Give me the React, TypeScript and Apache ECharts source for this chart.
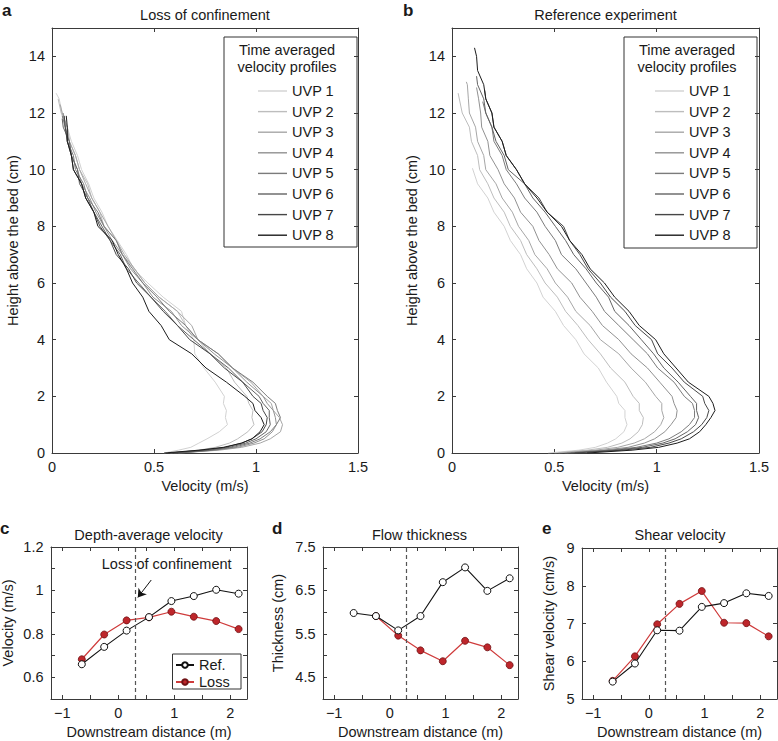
import React, { useEffect, useRef } from 'react';
import * as echarts from 'echarts';

// ---------- Data ----------
// Shared height grid (cm) used by the velocity profiles; last value of each profile is at its own top height
const HEIGHTS = [0, 0.1, 0.2, 0.35, 0.5, 0.75, 1, 1.25, 1.5, 1.75, 2, 2.5, 3, 3.5, 4, 4.5, 5, 5.5, 6, 6.5, 7, 7.5, 8, 8.5, 9, 9.5, 10, 10.5, 11, 11.5, 12, 12.5, 13, 13.5, 14];

const UVP_NAMES = ['UVP 1', 'UVP 2', 'UVP 3', 'UVP 4', 'UVP 5', 'UVP 6', 'UVP 7', 'UVP 8'];
const UVP_COLORS = ['#d2d2d2', '#bdbdbd', '#a6a6a6', '#919191', '#7b7b7b', '#636363', '#474747', '#1c1c1c'];

// Panel a: loss of confinement (velocity m/s)
const LOSS_TOPS = [12.7, 12.5, 12.3, 12.0, 11.9, 11.8, 11.9, 11.9];
const LOSS_UVP1 = [0.55, 0.62, 0.68, 0.72, 0.76, 0.82, 0.86, 0.85, 0.855, 0.84, 0.845, 0.8, 0.745, 0.7, 0.695, 0.655, 0.635, 0.545, 0.47, 0.4, 0.365, 0.32, 0.275, 0.245, 0.205, 0.18, 0.145, 0.125, 0.095, 0.075, 0.05, 0.035, 0.02];
const LOSS_UVP2 = [0.58, 0.72, 0.8, 0.87, 0.91, 0.96, 0.99, 0.98, 0.985, 0.965, 0.955, 0.895, 0.855, 0.775, 0.715, 0.655, 0.615, 0.525, 0.455, 0.405, 0.345, 0.315, 0.255, 0.235, 0.195, 0.175, 0.135, 0.115, 0.085, 0.075, 0.045, 0.03];
const LOSS_UVP3 = [0.62, 0.82, 0.93, 1.02, 1.07, 1.12, 1.13, 1.115, 1.085, 1.075, 1.035, 0.975, 0.885, 0.815, 0.715, 0.685, 0.615, 0.525, 0.455, 0.405, 0.355, 0.315, 0.275, 0.235, 0.195, 0.165, 0.135, 0.115, 0.085, 0.075, 0.05, 0.04];
const LOSS_UVP4 = [0.6, 0.8, 0.91, 0.99, 1.04, 1.08, 1.1, 1.095, 1.085, 1.055, 1.035, 0.955, 0.885, 0.795, 0.715, 0.635, 0.585, 0.495, 0.445, 0.385, 0.345, 0.295, 0.255, 0.215, 0.185, 0.145, 0.125, 0.095, 0.085, 0.065, 0.055];
const LOSS_UVP5 = [0.63, 0.79, 0.89, 0.97, 1.02, 1.07, 1.1, 1.12, 1.105, 1.095, 1.055, 0.985, 0.885, 0.815, 0.715, 0.655, 0.575, 0.515, 0.445, 0.395, 0.345, 0.315, 0.255, 0.225, 0.175, 0.155, 0.115, 0.105, 0.075, 0.065, 0.05];
const LOSS_UVP6 = [0.61, 0.77, 0.87, 0.95, 1.0, 1.05, 1.07, 1.065, 1.065, 1.035, 1.015, 0.935, 0.865, 0.775, 0.695, 0.615, 0.555, 0.485, 0.425, 0.365, 0.335, 0.285, 0.245, 0.205, 0.175, 0.135, 0.125, 0.095, 0.085, 0.055, 0.05];
const LOSS_UVP7 = [0.57, 0.74, 0.85, 0.93, 0.98, 1.03, 1.05, 1.055, 1.035, 1.025, 0.985, 0.935, 0.845, 0.775, 0.675, 0.615, 0.545, 0.485, 0.415, 0.375, 0.315, 0.285, 0.235, 0.205, 0.165, 0.145, 0.105, 0.095, 0.075, 0.065, 0.06];
const LOSS_UVP8 = [0.55, 0.72, 0.84, 0.93, 0.98, 1.02, 1.04, 1.025, 0.995, 0.985, 0.945, 0.855, 0.755, 0.685, 0.575, 0.535, 0.475, 0.445, 0.395, 0.365, 0.325, 0.295, 0.225, 0.205, 0.165, 0.145, 0.105, 0.095, 0.075, 0.075, 0.07];
const LOSS_PROFILES = [LOSS_UVP1, LOSS_UVP2, LOSS_UVP3, LOSS_UVP4, LOSS_UVP5, LOSS_UVP6, LOSS_UVP7, LOSS_UVP8];

// Panel b: reference experiment (velocity m/s)
const REF_TOPS = [10.05, 12.7, 13.1, 12.9, 12.4, 13.3, 12.8, 14.3];
const REF_UVP1 = [0.47, 0.62, 0.7, 0.76, 0.8, 0.84, 0.855, 0.845, 0.845, 0.815, 0.805, 0.755, 0.715, 0.645, 0.605, 0.545, 0.505, 0.445, 0.415, 0.365, 0.335, 0.285, 0.255, 0.205, 0.175, 0.125, 0.1];
const REF_UVP2 = [0.5, 0.66, 0.76, 0.83, 0.87, 0.91, 0.93, 0.935, 0.915, 0.915, 0.885, 0.845, 0.775, 0.725, 0.665, 0.615, 0.555, 0.515, 0.455, 0.415, 0.365, 0.335, 0.285, 0.255, 0.205, 0.175, 0.135, 0.125, 0.095, 0.085, 0.05, 0.03];
const REF_UVP3 = [0.52, 0.7, 0.81, 0.89, 0.94, 0.99, 1.02, 1.035, 1.025, 1.025, 0.995, 0.945, 0.875, 0.815, 0.725, 0.675, 0.605, 0.565, 0.505, 0.465, 0.405, 0.375, 0.325, 0.295, 0.245, 0.215, 0.165, 0.155, 0.125, 0.115, 0.085, 0.08, 0.075, 0.07];
const REF_UVP4 = [0.55, 0.74, 0.86, 0.94, 0.99, 1.04, 1.07, 1.095, 1.1, 1.085, 1.075, 1.015, 0.955, 0.875, 0.815, 0.735, 0.685, 0.625, 0.585, 0.515, 0.475, 0.425, 0.395, 0.335, 0.305, 0.255, 0.225, 0.185, 0.175, 0.145, 0.14, 0.13, 0.12];
const REF_UVP5 = [0.56, 0.77, 0.9, 1.0, 1.06, 1.12, 1.16, 1.185, 1.185, 1.175, 1.135, 1.085, 1.005, 0.955, 0.885, 0.815, 0.745, 0.705, 0.655, 0.605, 0.535, 0.505, 0.455, 0.415, 0.355, 0.315, 0.265, 0.245, 0.205, 0.195, 0.165, 0.15];
const REF_UVP6 = [0.58, 0.8, 0.93, 1.03, 1.09, 1.15, 1.19, 1.205, 1.195, 1.195, 1.165, 1.105, 1.035, 0.985, 0.925, 0.865, 0.795, 0.765, 0.705, 0.655, 0.595, 0.555, 0.505, 0.455, 0.395, 0.355, 0.275, 0.255, 0.215, 0.195, 0.165, 0.155, 0.125, 0.12];
const REF_UVP7 = [0.6, 0.83, 0.97, 1.06, 1.12, 1.18, 1.22, 1.245, 1.255, 1.235, 1.225, 1.135, 1.075, 1.005, 0.975, 0.895, 0.845, 0.775, 0.725, 0.665, 0.625, 0.575, 0.545, 0.465, 0.425, 0.355, 0.315, 0.265, 0.245, 0.205, 0.195, 0.165, 0.16];
const REF_UVP8 = [0.66, 0.88, 1.01, 1.1, 1.16, 1.21, 1.24, 1.265, 1.285, 1.275, 1.255, 1.155, 1.095, 1.035, 0.995, 0.915, 0.865, 0.795, 0.745, 0.675, 0.635, 0.575, 0.535, 0.465, 0.415, 0.355, 0.315, 0.265, 0.245, 0.205, 0.195, 0.165, 0.155, 0.125, 0.12, 0.11];
const REF_PROFILES = [REF_UVP1, REF_UVP2, REF_UVP3, REF_UVP4, REF_UVP5, REF_UVP6, REF_UVP7, REF_UVP8];

// Panels c-e
const DISTANCE = [-0.65, -0.25, 0.15, 0.55, 0.95, 1.35, 1.75, 2.15];
const DEPTH_VEL_REF = [0.66, 0.74, 0.815, 0.877, 0.951, 0.974, 1.003, 0.985];
const DEPTH_VEL_LOSS = [0.683, 0.797, 0.862, 0.876, 0.902, 0.879, 0.859, 0.822];
const THICK_REF = [5.98, 5.91, 5.58, 5.91, 6.69, 7.03, 6.49, 6.78];
const THICK_LOSS = [null, 5.91, 5.46, 5.12, 4.87, 5.34, 5.19, 4.78];
const SHEAR_REF = [5.46, 5.94, 6.82, 6.81, 7.44, 7.54, 7.8, 7.73];
const SHEAR_LOSS = [5.48, 6.13, 6.98, 7.52, 7.86, 7.02, 7.01, 6.66];
const CONFINEMENT_LOSS_X = 0.3;

// Tick values
const PROFILE_V_TICKS = [0, 0.5, 1, 1.5];
const PROFILE_H_TICKS = [0, 2, 4, 6, 8, 10, 12, 14];
const DIST_LABELS = [-1, 0, 1, 2];
const DIST_TICKS = [-1, -0.5, 0, 0.5, 1, 1.5, 2];
const VEL_LABELS = [0.6, 0.8, 1, 1.2];
const VEL_TICKS = [0.5, 0.6, 0.7, 0.8, 0.9, 1, 1.1, 1.2];
const THICK_LABELS = [4.5, 5.5, 6.5, 7.5];
const THICK_TICKS = [4, 4.5, 5, 5.5, 6, 6.5, 7, 7.5];
const SHEAR_TICKS = [5, 6, 7, 8, 9];

// ---------- Styling helpers ----------
const FONT = "'Liberation Sans', Arial, Helvetica, sans-serif";
const FS = 14.5;
const AX = '#3a3a3a';
const TXT = '#1a1a1a';

const fmt = (v: number) => String(v).replace('-', '\u2212');

function axisPair(kind: 'x' | 'y', gridIndex: number, min: number, max: number, ticks: number[], labels: number[], name: string, nameGap: number, labelMargin: number) {
  const base = {
    type: 'value',
    gridIndex,
    min,
    max,
    splitLine: { show: false },
    axisLine: { show: true, onZero: false, lineStyle: { color: AX, width: 1 } },
    axisTick: { show: true, inside: true, length: 4, customValues: ticks, lineStyle: { color: AX, width: 1 } },
  };
  const main = {
    ...base,
    position: kind === 'x' ? 'bottom' : 'left',
    axisLabel: { show: true, customValues: labels, margin: labelMargin, fontSize: FS, color: TXT, fontFamily: FONT, formatter: fmt },
    name,
    nameLocation: 'middle',
    nameGap,
    nameTextStyle: { fontSize: FS, color: TXT, fontFamily: FONT },
  };
  const mirror = {
    ...base,
    position: kind === 'x' ? 'top' : 'right',
    axisLabel: { show: false },
  };
  return [main, mirror];
}

function profile(vals: number[], top: number) {
  return vals.map((v, i) => [v, i === vals.length - 1 ? top : HEIGHTS[i]]);
}

function text(x: number, y: number, t: string, opts: any = {}) {
  return {
    type: 'text',
    x,
    y,
    silent: true,
    style: {
      text: t,
      font: `${opts.bold ? 'bold ' : ''}${opts.size || FS}px ${FONT}`,
      fill: TXT,
      textAlign: opts.align || 'center',
      textVerticalAlign: 'middle',
    },
  };
}

function box(x: number, y: number, w: number, h: number) {
  return {
    type: 'rect',
    silent: true,
    shape: { x, y, width: w, height: h },
    style: { fill: 'rgba(0,0,0,0)', stroke: '#333', lineWidth: 1 },
  };
}

export default function App() {
  const ref = useRef<HTMLDivElement>(null);

  useEffect(() => {
    if (!ref.current) return;
    const chart = echarts.init(ref.current, undefined, { renderer: 'svg' });

    const grids = [
      { left: 52, top: 28, width: 306, height: 425 },
      { left: 452, top: 28, width: 307, height: 425 },
      { left: 51, top: 547, width: 196, height: 152 },
      { left: 323, top: 547, width: 195, height: 152 },
      { left: 582, top: 548, width: 195, height: 151 },
    ].map((g) => ({ ...g, outerBoundsMode: 'none', containLabel: false }));

    const xAxis = [
      ...axisPair('x', 0, 0, 1.5, PROFILE_V_TICKS, PROFILE_V_TICKS, 'Velocity (m/s)', 24, 6),
      ...axisPair('x', 1, 0, 1.5, PROFILE_V_TICKS, PROFILE_V_TICKS, 'Velocity (m/s)', 24, 6),
      ...axisPair('x', 2, -1.2, 2.3, DIST_TICKS, DIST_LABELS, 'Downstream distance (m)', 25, 6),
      ...axisPair('x', 3, -1.2, 2.3, DIST_TICKS, DIST_LABELS, 'Downstream distance (m)', 25, 6),
      ...axisPair('x', 4, -1.2, 2.3, DIST_TICKS, DIST_LABELS, 'Downstream distance (m)', 25, 6),
    ];
    const yAxis = [
      ...axisPair('y', 0, 0, 15, PROFILE_H_TICKS, PROFILE_H_TICKS, 'Height above the bed (cm)', 31.5, 7),
      ...axisPair('y', 1, 0, 15, PROFILE_H_TICKS, PROFILE_H_TICKS, 'Height above the bed (cm)', 32.5, 7),
      ...axisPair('y', 2, 0.5, 1.2, VEL_TICKS, VEL_LABELS, 'Velocity (m/s)', 36, 7.5),
      ...axisPair('y', 3, 4, 7.5, THICK_TICKS, THICK_LABELS, 'Thickness (cm)', 37.5, 7.5),
      ...axisPair('y', 4, 5, 9, SHEAR_TICKS, SHEAR_TICKS, 'Shear velocity (cm/s)', 25.5, 7.5),
    ];

    const profileSeries = (profiles: number[][], tops: number[], axisIdx: number) =>
      profiles.map((vals, i) => ({
        type: 'line',
        name: UVP_NAMES[i],
        xAxisIndex: axisIdx,
        yAxisIndex: axisIdx,
        data: profile(vals, tops[i]),
        symbol: 'none',
        showSymbol: false,
        lineStyle: { color: UVP_COLORS[i], width: 1 },
        itemStyle: { color: UVP_COLORS[i] },
        z: 2 + i,
      }));

    const pair = (xs: number[], ys: (number | null)[]) => xs.map((x, i) => [x, ys[i] == null ? '-' : ys[i]]);

    const dashed = { xAxis: CONFINEMENT_LOSS_X, lineStyle: { type: [4, 3], color: '#555', width: 1.2 } };

    const lossSeries = (axisIdx: number, ys: (number | null)[], extra: any[] = []) => ({
      type: 'line',
      name: 'Loss',
      xAxisIndex: axisIdx,
      yAxisIndex: axisIdx,
      data: pair(DISTANCE, ys),
      symbol: 'circle',
      symbolSize: 7,
      showSymbol: true,
      connectNulls: false,
      lineStyle: { color: '#cf3b3b', width: 1.2 },
      itemStyle: { color: '#be262b', borderColor: '#6e1013', borderWidth: 0.8 },
      z: 3,
      markLine: {
        silent: true,
        symbol: ['none', 'none'],
        label: { show: false },
        animation: false,
        data: [dashed, ...extra],
      },
    });

    const refSeries = (axisIdx: number, ys: number[]) => ({
      type: 'line',
      name: 'Ref.',
      xAxisIndex: axisIdx,
      yAxisIndex: axisIdx,
      data: pair(DISTANCE, ys),
      symbol: 'circle',
      symbolSize: 7,
      showSymbol: true,
      lineStyle: { color: '#111', width: 1.1 },
      itemStyle: { color: '#ffffff', borderColor: '#111', borderWidth: 1 },
      z: 4,
    });

    const arrow = [
      { coord: [0.59, 1.048], symbol: 'none', lineStyle: { type: 'solid', color: '#111', width: 1 } },
      { coord: [0.35, 0.968], symbol: 'arrow', symbolSize: 8 },
    ];

    const series = [
      ...profileSeries(LOSS_PROFILES, LOSS_TOPS, 0),
      ...profileSeries(REF_PROFILES, REF_TOPS, 2),
      lossSeries(4, DEPTH_VEL_LOSS, [arrow]),
      refSeries(4, DEPTH_VEL_REF),
      lossSeries(6, THICK_LOSS),
      refSeries(6, THICK_REF),
      lossSeries(8, SHEAR_LOSS),
      refSeries(8, SHEAR_REF),
    ];

    const legendText = { fontSize: FS, color: TXT, fontFamily: FONT };
    const uvpLegend = (left: number) => ({
      left,
      top: 83.5,
      padding: 0,
      orient: 'vertical',
      icon: 'rect',
      itemWidth: 29,
      itemHeight: 1.4,
      itemGap: 5.6,
      data: UVP_NAMES,
      textStyle: legendText,
      selectedMode: false,
    });

    const option = {
      animation: false,
      textStyle: { fontFamily: FONT },
      grid: grids,
      xAxis,
      yAxis,
      legend: [
        uvpLegend(258),
        uvpLegend(655),
        { left: 175, top: 657.5, padding: 0, orient: 'vertical', itemWidth: 18, itemHeight: 7, itemGap: 2, data: ['Ref.', 'Loss'], textStyle: legendText, selectedMode: false },
      ],
      graphic: [
        text(2, 10.5, 'a', { bold: true, size: 17, align: 'left' }),
        text(403, 10.5, 'b', { bold: true, size: 17, align: 'left' }),
        text(0, 528, 'c', { bold: true, size: 17, align: 'left' }),
        text(272, 528, 'd', { bold: true, size: 17, align: 'left' }),
        text(542, 528, 'e', { bold: true, size: 17, align: 'left' }),
        text(205, 15, 'Loss of confinement'),
        text(605.5, 15, 'Reference experiment'),
        text(148.5, 535, 'Depth-average velocity'),
        text(419.5, 535, 'Flow thickness'),
        text(680, 535, 'Shear velocity'),
        box(224, 37, 133, 210),
        text(287, 49.5, 'Time averaged'),
        text(287, 67, 'velocity profiles'),
        box(624, 37, 133, 211),
        text(687, 49.5, 'Time averaged'),
        text(687, 67, 'velocity profiles'),
        box(172.5, 654, 68.5, 35),
        text(166.7, 564, 'Loss of confinement'),
      ],
      series,
    };

    chart.setOption(option as any);
    return () => chart.dispose();
  }, []);

  return <div ref={ref} style={{ position: 'absolute', left: 0, top: 0, width: 778, height: 741 }} />;
}
